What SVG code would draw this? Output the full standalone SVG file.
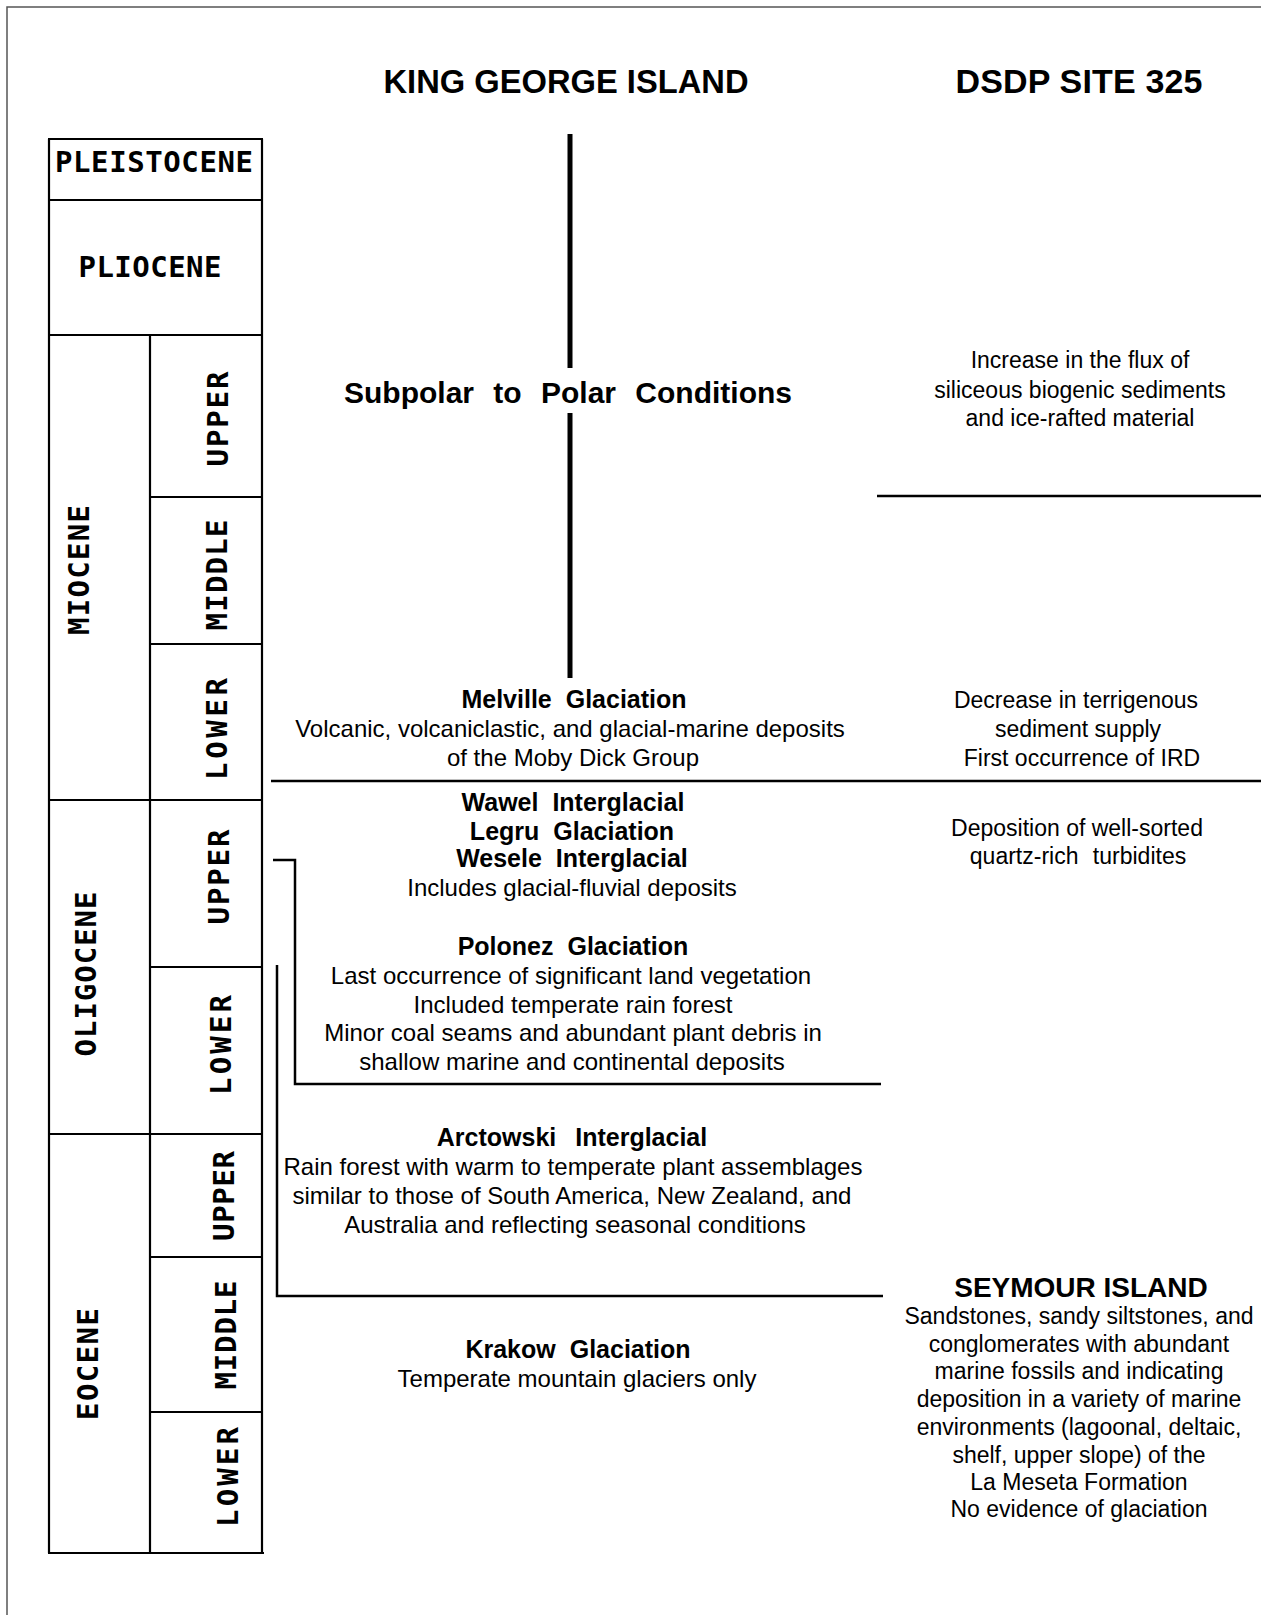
<svg xmlns="http://www.w3.org/2000/svg" width="1261" height="1615" viewBox="0 0 1261 1615">
<style>
.frame{stroke:#555;stroke-width:1.5;fill:none}
.box{stroke:#000;stroke-width:2.2;fill:none}
.ln{stroke:#000;stroke-width:2.5;fill:none}
.thick{stroke:#000;stroke-width:5;fill:none}
.ep{font-family:"DejaVu Sans Mono","Liberation Mono",monospace;font-weight:bold;font-size:29px;fill:#000;text-anchor:middle}
.t{font-family:"Liberation Sans",Arial,sans-serif;font-size:24px;fill:#000;text-anchor:middle}
.h{font-family:"Liberation Sans",Arial,sans-serif;font-size:25px;font-weight:bold;fill:#000;text-anchor:middle;word-spacing:7px}
.r{font-family:"Liberation Sans",Arial,sans-serif;font-size:23px;fill:#000;text-anchor:middle}
.title{font-family:"Liberation Sans",Arial,sans-serif;font-size:34px;font-weight:bold;fill:#000;text-anchor:middle}
</style>
<rect x="0" y="0" width="1261" height="1615" fill="#fff"/>
<g id="frame">
<path class="frame" d="M7,1615 V7 H1261"/>
</g>
<g id="titles">
<text class="title" x="566" y="93" textLength="365" lengthAdjust="spacingAndGlyphs">KING GEORGE ISLAND</text>
<text class="title" x="1079" y="93" textLength="247">DSDP SITE 325</text>
</g>
<g id="timescale">
<path class="box" d="M48,139 H263 M49,139 V1553 M262,139 V1553 M150,335 V1553 M49,200 H262 M49,335 H262 M150,497 H262 M150,644 H262 M49,800 H262 M150,967 H262 M49,1134 H262 M150,1257 H262 M150,1412 H262 M48,1553 H264"/>
<path class="box" d="M48,139 H263" stroke-width="3.5"/>
<text class="ep" x="154" y="172" textLength="198">PLEISTOCENE</text>
<text class="ep" x="150" y="277" textLength="143">PLIOCENE</text>
<text class="ep" transform="translate(89,570) rotate(-90)" x="0" y="0" textLength="130">MIOCENE</text>
<text class="ep" transform="translate(228,419) rotate(-90)" x="0" y="0" textLength="95">UPPER</text>
<text class="ep" transform="translate(227,575) rotate(-90)" x="0" y="0" textLength="111">MIDDLE</text>
<text class="ep" transform="translate(227,729) rotate(-90)" x="0" y="0" textLength="102">LOWER</text>
<text class="ep" transform="translate(96,974) rotate(-90)" x="0" y="0" textLength="165">OLIGOCENE</text>
<text class="ep" transform="translate(229,877) rotate(-90)" x="0" y="0" textLength="95">UPPER</text>
<text class="ep" transform="translate(231,1045) rotate(-90)" x="0" y="0" textLength="100">LOWER</text>
<text class="ep" transform="translate(98,1364) rotate(-90)" x="0" y="0" textLength="112">EOCENE</text>
<text class="ep" transform="translate(234,1196) rotate(-90)" x="0" y="0" textLength="90">UPPER</text>
<text class="ep" transform="translate(236,1335) rotate(-90)" x="0" y="0" textLength="109">MIDDLE</text>
<text class="ep" transform="translate(238,1477) rotate(-90)" x="0" y="0" textLength="100">LOWER</text>
</g>
<g id="connectors">
<path class="thick" d="M570,134 V368 M570,413 V678"/>
<path class="ln" d="M271,781 H1261"/>
<path class="ln" d="M877,496 H1261"/>
<path class="ln" d="M273,860 H295 V1084 H881"/>
<path class="ln" d="M277,965 V1296 H883"/>
</g>
<g id="subpolar">
<text class="h" x="568" y="403" style="font-size:30px;word-spacing:11px">Subpolar to Polar Conditions</text>
</g>
<g id="melville">
<text class="h" x="574" y="708">Melville Glaciation</text>
<text class="t" x="570" y="737">Volcanic, volcaniclastic, and glacial-marine deposits</text>
<text class="t" x="573" y="766">of the Moby Dick Group</text>
</g>
<g id="wawel">
<text class="h" x="573" y="811">Wawel Interglacial</text>
<text class="h" x="572" y="840">Legru Glaciation</text>
<text class="h" x="572" y="867">Wesele Interglacial</text>
<text class="t" x="572" y="896">Includes glacial-fluvial deposits</text>
</g>
<g id="polonez">
<text class="h" x="573" y="955">Polonez Glaciation</text>
<text class="t" x="571" y="984">Last occurrence of significant land vegetation</text>
<text class="t" x="573" y="1013">Included temperate rain forest</text>
<text class="t" x="573" y="1041">Minor coal seams and abundant plant debris in</text>
<text class="t" x="572" y="1070">shallow marine and continental deposits</text>
</g>
<g id="arctowski">
<text class="h" x="572" y="1146" style="word-spacing:12px">Arctowski Interglacial</text>
<text class="t" x="573" y="1175">Rain forest with warm to temperate plant assemblages</text>
<text class="t" x="572" y="1204">similar to those of South America, New Zealand, and</text>
<text class="t" x="575" y="1233">Australia and reflecting seasonal conditions</text>
</g>
<g id="krakow">
<text class="h" x="578" y="1358">Krakow Glaciation</text>
<text class="t" x="577" y="1387">Temperate mountain glaciers only</text>
</g>
<g id="dsdp-upper">
<text class="r" x="1080" y="368">Increase in the flux of</text>
<text class="r" x="1080" y="398">siliceous biogenic sediments</text>
<text class="r" x="1080" y="426">and ice-rafted material</text>
</g>
<g id="dsdp-lower-miocene">
<text class="r" x="1076" y="708">Decrease in terrigenous</text>
<text class="r" x="1078" y="737">sediment supply</text>
<text class="r" x="1082" y="766">First occurrence of IRD</text>
</g>
<g id="dsdp-oligocene">
<text class="r" x="1077" y="836">Deposition of well-sorted</text>
<text class="r" x="1078" y="864" style="word-spacing:8px">quartz-rich turbidites</text>
</g>
<g id="seymour">
<text class="h" x="1081" y="1297" style="font-size:28px;word-spacing:0">SEYMOUR ISLAND</text>
<text class="r" x="1079" y="1324">Sandstones, sandy siltstones, and</text>
<text class="r" x="1079" y="1352">conglomerates with abundant</text>
<text class="r" x="1079" y="1379">marine fossils and indicating</text>
<text class="r" x="1079" y="1407">deposition in a variety of marine</text>
<text class="r" x="1079" y="1435">environments (lagoonal, deltaic,</text>
<text class="r" x="1079" y="1463">shelf, upper slope) of the</text>
<text class="r" x="1079" y="1490">La Meseta Formation</text>
<text class="r" x="1079" y="1517">No evidence of glaciation</text>
</g>
</svg>
